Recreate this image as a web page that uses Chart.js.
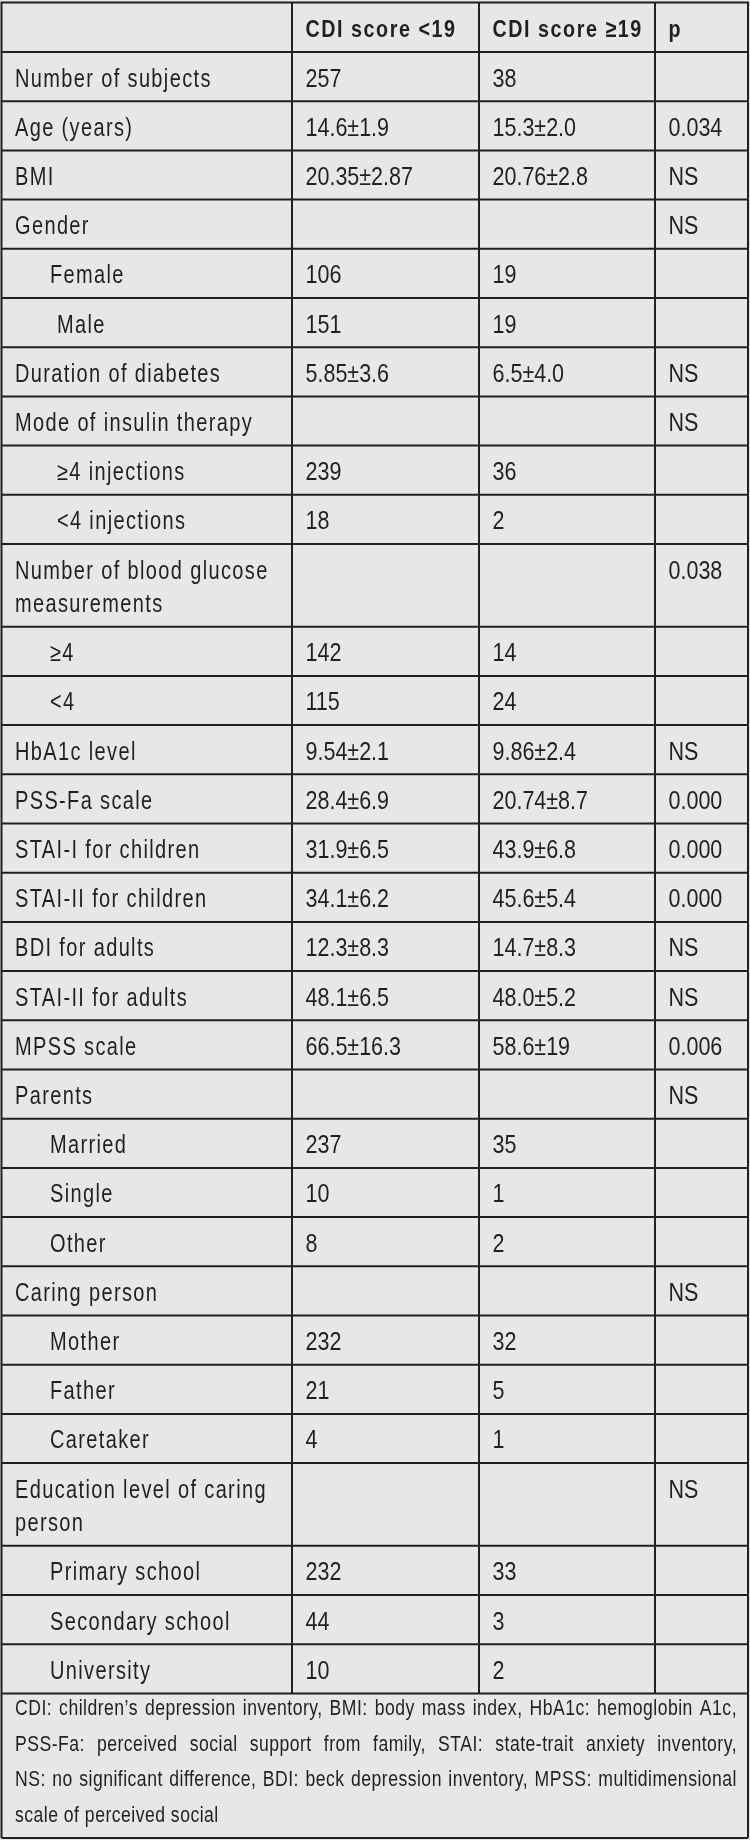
<!DOCTYPE html>
<html>
<head>
<meta charset="utf-8">
<script src="https://cdn.jsdelivr.net/npm/chart.js@4.4.1/dist/chart.umd.min.js"></script>
<style>
  html, body { margin: 0; padding: 0; background: #fff; }
  #wrap { width: 750px; height: 1840px; }
</style>
</head>
<body>
<div id="wrap"><canvas id="tableChart" width="750" height="1840"></canvas></div>
<script>
const headers = ["", "CDI score <19", "CDI score ≥19", "p"];

const rowLabels = [
  "Number of subjects",
  "Age (years)",
  "BMI",
  "Gender",
  "Female",
  " Male",
  "Duration of diabetes",
  "Mode of insulin therapy",
  " ≥4 injections",
  " <4 injections",
  "Number of blood glucose\nmeasurements",
  "≥4",
  "<4",
  "HbA1c level",
  "PSS-Fa scale",
  "STAI-I for children",
  "STAI-II for children",
  "BDI for adults",
  "STAI-II for adults",
  "MPSS scale",
  "Parents",
  "Married",
  "Single",
  "Other",
  "Caring person",
  "Mother",
  "Father",
  "Caretaker",
  "Education level of caring\nperson",
  "Primary school",
  "Secondary school",
  "University",
];

const cdiBelow19 = [
  "257", "14.6±1.9", "20.35±2.87", "", "106", "151", "5.85±3.6", "", "239", "18",
  "", "142", "115", "9.54±2.1", "28.4±6.9", "31.9±6.5", "34.1±6.2", "12.3±8.3",
  "48.1±6.5", "66.5±16.3", "", "237", "10", "8", "", "232", "21", "4", "", "232",
  "44", "10",
];

const cdiAbove19 = [
  "38", "15.3±2.0", "20.76±2.8", "", "19", "19", "6.5±4.0", "", "36", "2",
  "", "14", "24", "9.86±2.4", "20.74±8.7", "43.9±6.8", "45.6±5.4", "14.7±8.3",
  "48.0±5.2", "58.6±19", "", "35", "1", "2", "", "32", "5", "1", "", "33",
  "3", "2",
];

const pValues = [
  "", "0.034", "NS", "NS", "", "", "NS", "NS", "", "",
  "0.038", "", "", "NS", "0.000", "0.000", "0.000", "NS",
  "NS", "0.006", "NS", "", "", "", "NS", "", "", "", "NS", "",
  "", "",
];

// rows shown as sub-items (indented)
const subRows = [4, 5, 8, 9, 11, 12, 21, 22, 23, 25, 26, 27, 29, 30, 31];

const footnoteLines = [
  "CDI: children’s depression inventory, BMI: body mass index, HbA1c: hemoglobin A1c,",
  "PSS-Fa: perceived social support from family, STAI: state-trait anxiety inventory,",
  "NS: no significant difference, BDI: beck depression inventory, MPSS: multidimensional",
  "scale of perceived social",
];

// layout
const colEdges = [1.5, 292, 479, 655, 748];
const tableTop = 2.5;
const headerHeight = 49.5;
const rowHeight = 49.2;
const lineStep = 33.5;
const cellPad = 13.5;
const indentX = 50;
const footBottom = 1838;
const footFirstBase = 22;
const footStep = 35.5;
// no condensed font installed, so text is squeezed horizontally
const condenseText = 0.8;
const condenseNum = 0.86;

const FONT = '"Liberation Sans", Arial, sans-serif';
const INK = "#231f20";
const FILL = "#e6e7e8";

function rowLines(i) {
  return rowLabels[i].split("\n");
}

function drawText(ctx, str, x, y, sx) {
  ctx.save();
  ctx.translate(x, y);
  ctx.scale(sx, 1);
  ctx.fillText(str, 0, 0);
  ctx.restore();
}

function drawJustified(ctx, line, x0, x1, y, justify) {
  const words = line.split(" ");
  const widths = words.map((w) => ctx.measureText(w).width * condenseText);
  const total = widths.reduce((a, b) => a + b, 0);
  if (!justify || words.length < 2) {
    drawText(ctx, line, x0, y, condenseText);
    return;
  }
  let gap = (x1 - x0 - total) / (words.length - 1);
  let sx = 1;
  if (gap < 4) {
    gap = 4;
    sx = (x1 - x0 - gap * (words.length - 1)) / total;
  }
  let x = x0;
  words.forEach((w, i) => {
    drawText(ctx, w, x, y, condenseText * sx);
    x += widths[i] * sx + gap;
  });
}

const tablePlugin = {
  id: "tableGrid",
  afterDraw(chart) {
    const ctx = chart.ctx;
    const px = (v) => chart.scales.x.getPixelForValue(v);
    const py = (v) => chart.scales.y.getPixelForValue(v);

    // row edges
    const edges = [tableTop, tableTop + headerHeight];
    rowLabels.forEach((lab, i) => {
      const n = rowLines(i).length;
      edges.push(edges[edges.length - 1] + rowHeight + (n - 1) * lineStep);
    });
    const tableBottom = edges[edges.length - 1];

    ctx.save();
    ctx.fillStyle = FILL;
    ctx.fillRect(px(0), py(0), px(750) - px(0), py(1840) - py(0));

    // grid
    ctx.strokeStyle = INK;
    ctx.lineWidth = 2;
    ctx.beginPath();
    edges.forEach((e) => {
      ctx.moveTo(px(colEdges[0]), py(e));
      ctx.lineTo(px(colEdges[4]), py(e));
    });
    for (let c = 1; c < 4; c++) {
      ctx.moveTo(px(colEdges[c]), py(tableTop));
      ctx.lineTo(px(colEdges[c]), py(tableBottom));
    }
    ctx.moveTo(px(colEdges[0]), py(tableTop - 1));
    ctx.lineTo(px(colEdges[0]), py(footBottom));
    ctx.moveTo(px(colEdges[4]), py(tableTop - 1));
    ctx.lineTo(px(colEdges[4]), py(footBottom));
    ctx.moveTo(px(colEdges[0]), py(footBottom));
    ctx.lineTo(px(colEdges[4]), py(footBottom));
    ctx.stroke();

    ctx.fillStyle = INK;
    ctx.textBaseline = "alphabetic";
    ctx.textAlign = "left";

    // header
    ctx.font = "bold 24px " + FONT;
    ctx.letterSpacing = "1.9px";
    headers.forEach((h, c) => {
      if (!h) return;
      drawText(ctx, h, px(colEdges[c] + cellPad), py(tableTop + 34.5), 0.82);
    });

    // body
    ctx.font = "25px " + FONT;
    rowLabels.forEach((lab, i) => {
      const top = edges[i + 1];
      const lines = rowLines(i);
      const x0 = subRows.includes(i) ? indentX : colEdges[0] + cellPad;
      ctx.letterSpacing = "1.7px";
      lines.forEach((ln, k) => {
        drawText(ctx, ln, px(x0), py(top + 34.5 + k * lineStep), condenseText);
      });
      ctx.letterSpacing = "0px";
      [cdiBelow19[i], cdiAbove19[i], pValues[i]].forEach((v, c) => {
        if (v) drawText(ctx, v, px(colEdges[c + 1] + cellPad), py(top + 34.5), condenseNum);
      });
    });

    // footnote
    ctx.font = "22px " + FONT;
    ctx.letterSpacing = "0.6px";
    footnoteLines.forEach((ln, k) => {
      const y = py(tableBottom + footFirstBase + k * footStep);
      drawJustified(ctx, ln, px(15), px(737), y, k < footnoteLines.length - 1);
    });
    ctx.restore();
  },
};

new Chart(document.getElementById("tableChart"), {
  type: "scatter",
  data: { datasets: [] },
  options: {
    responsive: false,
    animation: false,
    devicePixelRatio: 1,
    layout: { padding: 0 },
    plugins: { legend: { display: false }, tooltip: { enabled: false } },
    scales: {
      x: { type: "linear", min: 0, max: 750, display: false },
      y: { type: "linear", min: 0, max: 1840, reverse: true, display: false },
    },
  },
  plugins: [tablePlugin],
});
</script>
</body>
</html>
